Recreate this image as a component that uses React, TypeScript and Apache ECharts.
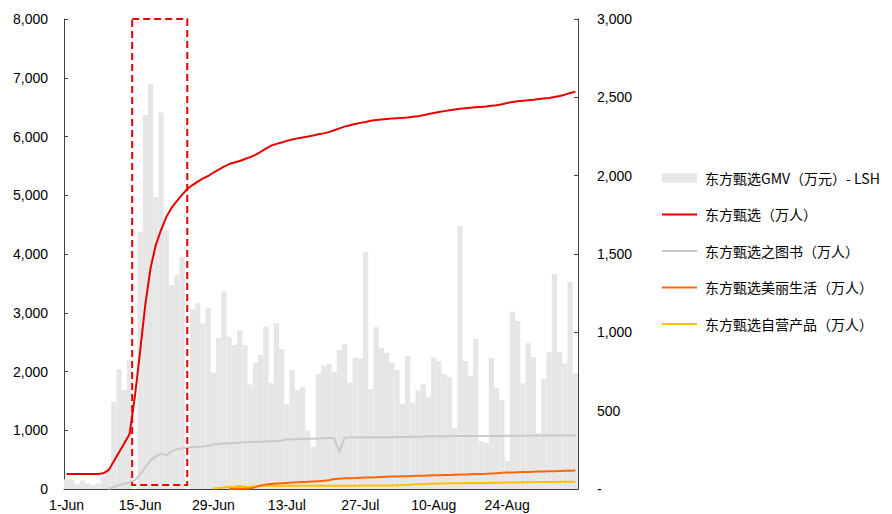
import React, { useEffect, useRef } from "react";
import * as echarts from "echarts";

// ---- categories (daily, 1-Jun .. 6-Sep) ----
const monthSpans: [string, number][] = [
  ["Jun", 30],
  ["Jul", 31],
  ["Aug", 31],
  ["Sep", 6],
];
const dates: string[] = monthSpans.flatMap(([m, n]) =>
  Array.from({ length: n }, (_, i) => `${i + 1}-${m}`)
);

// ---- series names ----
const nameGMV = "东方甄选GMV（万元）- LSH";
const nameMain = "东方甄选（万人）";
const nameBook = "东方甄选之图书（万人）";
const nameBeauty = "东方甄选美丽生活（万人）";
const nameSelf = "东方甄选自营产品（万人）";

// ---- GMV bars (万元, left axis) ----
const gmv: (number | null)[] = [
  165, 165, 85, 148, 97, 68, 97, 210, 370, 1486,
  2037, 1685, 2196, null, 4380, 6365, 6893, 4970, 6410, 4408,
  3472, 3640, 3954, null, 3058, 3160, 2820, 3075, 1980, 2575,
  3360, 2593, 2450, 2706, 2450, 1780, 2150, 2280, 2762, 1800,
  2820, 2383, 1440, 2025, 1685, 1740, 993, 720, 1957, 2099,
  2127, 1985, 2366, 2468, 1810, 2235, 2213, 4040, 1702, 2752,
  2405, 2320, 2150, 2025, 1447, 2264, 1469, 1685, 1787, 1560,
  2235, 2179, 1957, 1911, 1033, 4476, 2179, 1929, 2553, 817,
  788, 2235, 1714, 1515, 477, 3018, 2860, 1799, 2480, 2241,
  948, 1872, 2326, 3660, 2337, 2139, 3523, 1969,
];

// ---- followers (万人, right axis) ----
const mainFans: (number | null)[] = [
  96, 96, 96, 96, 96, 96, 96, 100, 120, 177,
  235, 292, 351, 587, 875, 1175, 1410, 1557, 1653, 1736,
  1794, 1838, 1877, 1915, 1940, 1962, 1983, 1998, 2020, 2039,
  2058, 2074, 2084, 2094, 2106, 2118, 2133, 2152, 2172, 2192,
  2203, 2212, 2222, 2231, 2238, 2244, 2250, 2257, 2264, 2270,
  2278, 2290, 2302, 2313, 2322, 2330, 2337, 2343, 2350, 2355,
  2359, 2362, 2365, 2367, 2369, 2372, 2376, 2380, 2386, 2393,
  2400, 2406, 2412, 2418, 2423, 2427, 2430, 2433, 2436, 2439,
  2442, 2446, 2450, 2456, 2464, 2470, 2475, 2478, 2481, 2485,
  2490, 2493, 2496, 2502, 2508, 2517, 2528, 2535,
];

const bookFans: (number | null)[] = [
  null, null, null, null, null, null, null, null, 0, 12,
  25, 33, 42, 55, 93, 138, 183, 208, 226, 216,
  240, 253, 258, 264, 268, 270, 272, 274, 285, 288,
  290, 292, 294, 296, 298, 300, 301, 302, 303, 305,
  307, 310, 316, 317, 318, 319, 320, 321, 323, 324,
  325, 326, 235, 328, 328, 329, 329, 330, 330, 330,
  331, 331, 331, 332, 332, 332, 333, 333, 334, 336,
  337, 337, 337, 337, 338, 338, 338, 338, 338, 339,
  339, 339, 339, 339, 340, 340, 340, 340, 340, 341,
  341, 341, 341, 341, 342, 342, 342, 342,
];

const beautyFans: (number | null)[] = [
  null, null, null, null, null, null, null, null, null, null,
  null, null, null, null, null, null, null, null, null, null,
  null, null, null, null, null, null, null, null, null, null,
  null, 0, 2, 3, 2, 3, 12, 22, 28, 32,
  35, 37, 39, 41, 43, 45, 46, 48, 50, 52,
  56, 64, 66, 68, 69, 70, 72, 73, 74, 75,
  77, 78, 79, 80, 81, 82, 83, 84, 85, 86,
  87, 88, 89, 90, 91, 92, 93, 94, 95, 96,
  97, 99, 101, 103, 105, 106, 107, 108, 109, 110,
  111, 112, 113, 114, 115, 116, 117, 118,
];

const selfFans: (number | null)[] = [
  null, null, null, null, null, null, null, null, null, null,
  null, null, null, null, null, null, null, null, null, null,
  null, null, null, null, null, null, null, null, 3, 6,
  9, 12, 15, 20, 14, 13, 18, 20, 20, 21,
  21, 21, 21, 21, 21, 21, 21, 21, 21, 21,
  21, 21, 21, 21, 21, 21, 22, 22, 22, 22,
  22, 23, 23, 24, 25, 26, 28, 30, 31, 33,
  34, 35, 35, 36, 36, 37, 37, 38, 38, 39,
  39, 40, 40, 41, 41, 42, 42, 43, 43, 44,
  44, 45, 45, 45, 46, 46, 46, 47,
];

// ---- highlighted window (dashed box), in data terms ----
const boxStartIndex = 13;
const boxEndIndex = 23;
const boxTopValue = 8000;
const boxBottomValue = 70;

const LATIN = "'Liberation Sans', Arial, 'Noto Sans CJK SC', sans-serif";
const CJK = "'Noto Sans CJK SC', 'Liberation Sans', sans-serif";
const AXIS_COLOR = "#404040";
const LINE_ICON = "path://M0,0 L35,0 L35,2 L0,2 Z";

export default function App() {
  const ref = useRef<HTMLDivElement>(null);

  useEffect(() => {
    if (!ref.current) return;
    const chart = echarts.init(ref.current, undefined, { renderer: "svg" });
    const fmt = (v: number) => v.toLocaleString("en-US");
    const option: any = {
      animation: false,
      textStyle: { fontFamily: LATIN },
      grid: { left: 64, right: 314, top: 19, bottom: 25, containLabel: false },
      legend: {
        orient: "vertical",
        left: 657,
        top: 166,
        itemWidth: 35,
        itemHeight: 9,
        itemGap: 22.5,
        textStyle: { fontSize: 14, color: "#000", fontFamily: CJK, padding: [0, 0, 0, 3] },
        data: [
          { name: nameGMV, icon: "rect" },
          { name: nameMain, icon: LINE_ICON },
          { name: nameBook, icon: LINE_ICON },
          { name: nameBeauty, icon: LINE_ICON },
          { name: nameSelf, icon: LINE_ICON },
        ],
      },
      xAxis: {
        type: "category",
        data: dates,
        boundaryGap: true,
        axisLine: { lineStyle: { color: AXIS_COLOR, width: 1 } },
        axisTick: { inside: true, length: 4, interval: 13, lineStyle: { color: AXIS_COLOR } },
        axisLabel: { interval: 13, fontSize: 14, color: "#000", margin: 9 },
        splitLine: { show: false },
      },
      yAxis: [
        {
          type: "value",
          position: "left",
          min: 0,
          max: 8000,
          interval: 1000,
          axisLine: { show: true, lineStyle: { color: AXIS_COLOR, width: 1 } },
          axisTick: { show: true, inside: true, length: 4, lineStyle: { color: AXIS_COLOR } },
          splitLine: { show: false },
          axisLabel: { fontSize: 14, color: "#000", margin: 16, formatter: (v: number) => fmt(v) },
        },
        {
          type: "value",
          position: "right",
          min: 0,
          max: 3000,
          interval: 500,
          axisLine: { show: true, lineStyle: { color: AXIS_COLOR, width: 1 } },
          axisTick: { show: true, inside: true, length: 4, lineStyle: { color: AXIS_COLOR } },
          splitLine: { show: false },
          axisLabel: {
            fontSize: 14,
            color: "#000",
            margin: 19,
            formatter: (v: number) => (v === 0 ? "-" : fmt(v)),
          },
        },
      ],
      series: [
        {
          name: nameGMV,
          type: "bar",
          yAxisIndex: 0,
          data: gmv,
          barCategoryGap: "0%",
          itemStyle: { color: "#e6e6e6" },
          z: 1,
        },
        {
          name: nameBook,
          type: "line",
          yAxisIndex: 1,
          data: bookFans,
          symbol: "none",
          lineStyle: { color: "#c9c9c9", width: 2 },
          itemStyle: { color: "#c9c9c9" },
          z: 3,
        },
        {
          name: nameSelf,
          type: "line",
          yAxisIndex: 1,
          data: selfFans,
          symbol: "none",
          lineStyle: { color: "#ffc000", width: 2 },
          itemStyle: { color: "#ffc000" },
          z: 3,
        },
        {
          name: nameBeauty,
          type: "line",
          yAxisIndex: 1,
          data: beautyFans,
          symbol: "none",
          lineStyle: { color: "#ff6600", width: 2 },
          itemStyle: { color: "#ff6600" },
          z: 4,
        },
        {
          name: nameMain,
          type: "line",
          yAxisIndex: 1,
          data: mainFans,
          symbol: "none",
          lineStyle: { color: "#e60000", width: 2 },
          itemStyle: { color: "#e60000" },
          z: 5,
        },
      ],
    };
    chart.setOption(option);

    const xa = chart.convertToPixel({ xAxisIndex: 0 }, boxStartIndex) as number;
    const xb = chart.convertToPixel({ xAxisIndex: 0 }, boxStartIndex + 1) as number;
    const band = xb - xa;
    const left = xa - band / 2;
    const right = chart.convertToPixel({ xAxisIndex: 0 }, boxEndIndex) as number;
    const top = chart.convertToPixel({ yAxisIndex: 0 }, boxTopValue) as number;
    const bottom = chart.convertToPixel({ yAxisIndex: 0 }, boxBottomValue) as number;
    chart.setOption({
      graphic: [
        {
          type: "rect",
          z: 100,
          shape: { x: left, y: top, width: right - left, height: bottom - top },
          style: { fill: "none", stroke: "#e60000", lineWidth: 2, lineDash: [7, 4] },
        },
      ],
    });

    return () => chart.dispose();
  }, []);

  return (
    <div
      ref={ref}
      style={{ position: "fixed", left: 0, top: 0, width: 892, height: 514, background: "#fff" }}
    />
  );
}
